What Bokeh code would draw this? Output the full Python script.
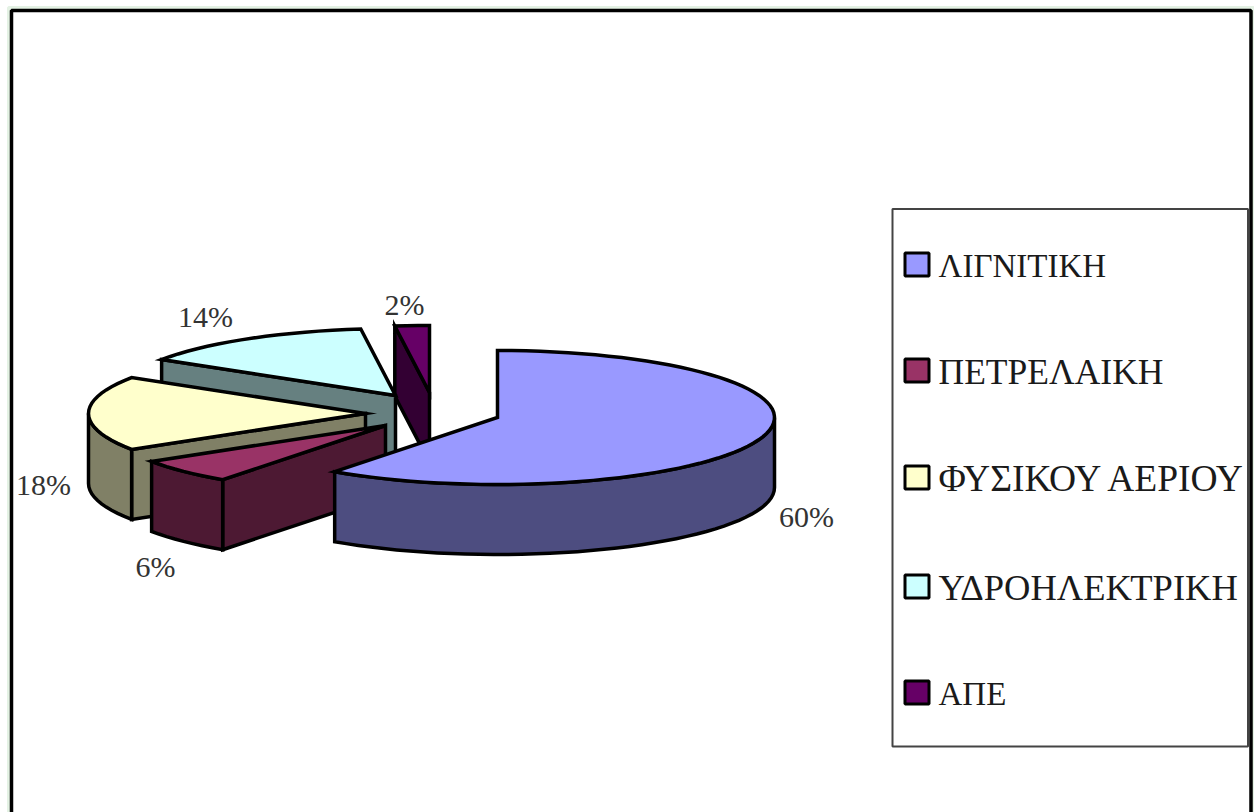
import numpy as np
from bokeh.embed import file_html
from bokeh.models import Range1d
from bokeh.plotting import figure
from bokeh.resources import INLINE

# Electricity generation shares by source
categories = ["ΛΙΓΝΙΤΙΚΗ", "ΠΕΤΡΕΛΑΙΚΗ", "ΦΥΣΙΚΟΥ ΑΕΡΙΟΥ", "ΥΔΡΟΗΛΕΚΤΡΙΚΗ", "ΑΠΕ"]
shares = [60, 6, 18, 14, 2]
top_colors = ["#9999FF", "#993366", "#FFFFCC", "#CCFFFF", "#660066"]
side_colors = ["#4D4D80", "#4D1933", "#808066", "#668080", "#330033"]

# Layout of the exploded pie, in page pixels
RX, RY, DEPTH = 277, 67, 70
hubs = [(497, 417), (385, 425), (365, 413), (395, 395), (429, 392)]
label_xy = [(806, 516), (155, 566), (43, 484), (205, 316), (404, 304)]
legend_rows = [264, 370, 477, 586, 692]
legend_sizes = [33, 35.5, 37.5, 36.5, 33]

W, H = 1254, 812
p = figure(width=W, height=H, output_backend="svg", toolbar_location=None,
           x_range=Range1d(0, W), y_range=Range1d(H, 0),
           x_axis_type=None, y_axis_type=None, min_border=0,
           outline_line_color=None, background_fill_color="white",
           border_fill_color="white")
p.grid.visible = False

# Page frame: a pale halo with a heavy black rule; its lower edge runs off the page
p.quad(left=[8], right=[1253], top=[7], bottom=[840], fill_color=None,
       line_color="#E4F2E4", line_width=3)
p.quad(left=[11], right=[1250.5], top=[10], bottom=[840], fill_color="white",
       line_color="black", line_width=3.5)


def rim(cx, cy, a0, a1, drop=0):
    """Points on the ellipse between two clockwise-from-north angles (degrees)."""
    n = max(2, int(abs(a1 - a0) / 3) + 2)
    t = np.radians(np.linspace(a0, a1, n))
    return cx + RX * np.sin(t), cy - RY * np.cos(t) + drop


def draw_patch(xs, ys, color):
    p.patch(xs, ys, fill_color=color, line_color="black", line_width=3.5,
            line_join="miter")


def cut_face(cx, cy, angle, color):
    ex, ey = rim(cx, cy, angle, angle)
    ex, ey = ex[0], ey[0]
    draw_patch([cx, ex, ex, cx], [cy, ey, ey + DEPTH, cy + DEPTH], color)


edges = np.concatenate([[0], np.cumsum(shares)]) * 3.6
slices = list(zip(edges[:-1], edges[1:], hubs, top_colors, side_colors))

# Painted from the back of the pie to the front
for a0, a1, (cx, cy), top, side in reversed(slices):
    if np.sin(np.radians(a0)) < -1e-9:
        cut_face(cx, cy, a0, side)
    if np.sin(np.radians(a1)) > 1e-9:
        cut_face(cx, cy, a1, side)
    w0, w1 = max(a0, 90), min(a1, 270)
    if w1 > w0:
        ux, uy = rim(cx, cy, w0, w1)
        lx, ly = rim(cx, cy, w0, w1, DEPTH)
        draw_patch(np.concatenate([ux, lx[::-1]]), np.concatenate([uy, ly[::-1]]), side)
    ax, ay = rim(cx, cy, a0, a1)
    draw_patch(np.concatenate([[cx], ax]), np.concatenate([[cy], ay]), top)

# Percentage labels
p.text([xy[0] for xy in label_xy], [xy[1] for xy in label_xy],
       text=[f"{v}%" for v in shares], text_font_size="30px",
       text_font="Liberation Serif", text_color="#333333",
       text_align="center", text_baseline="middle")

# Legend box, swatches and names
p.quad(left=[892], right=[1247.5], top=[208.5], bottom=[746], fill_color="white",
       line_color="#444444", line_width=2)
for name, color, row, size in zip(categories, top_colors, legend_rows, legend_sizes):
    p.quad(left=[904.5], right=[928.5], top=[row - 11.5], bottom=[row + 11.5],
           fill_color=color, line_color="black", line_width=3)
    p.text([938], [row + 1], text=[name], text_font_size=f"{size}px",
           text_font="Liberation Serif", text_color="#1a1a1a",
           text_align="left", text_baseline="middle")

open("out.html", "w").write(file_html(p, INLINE))
